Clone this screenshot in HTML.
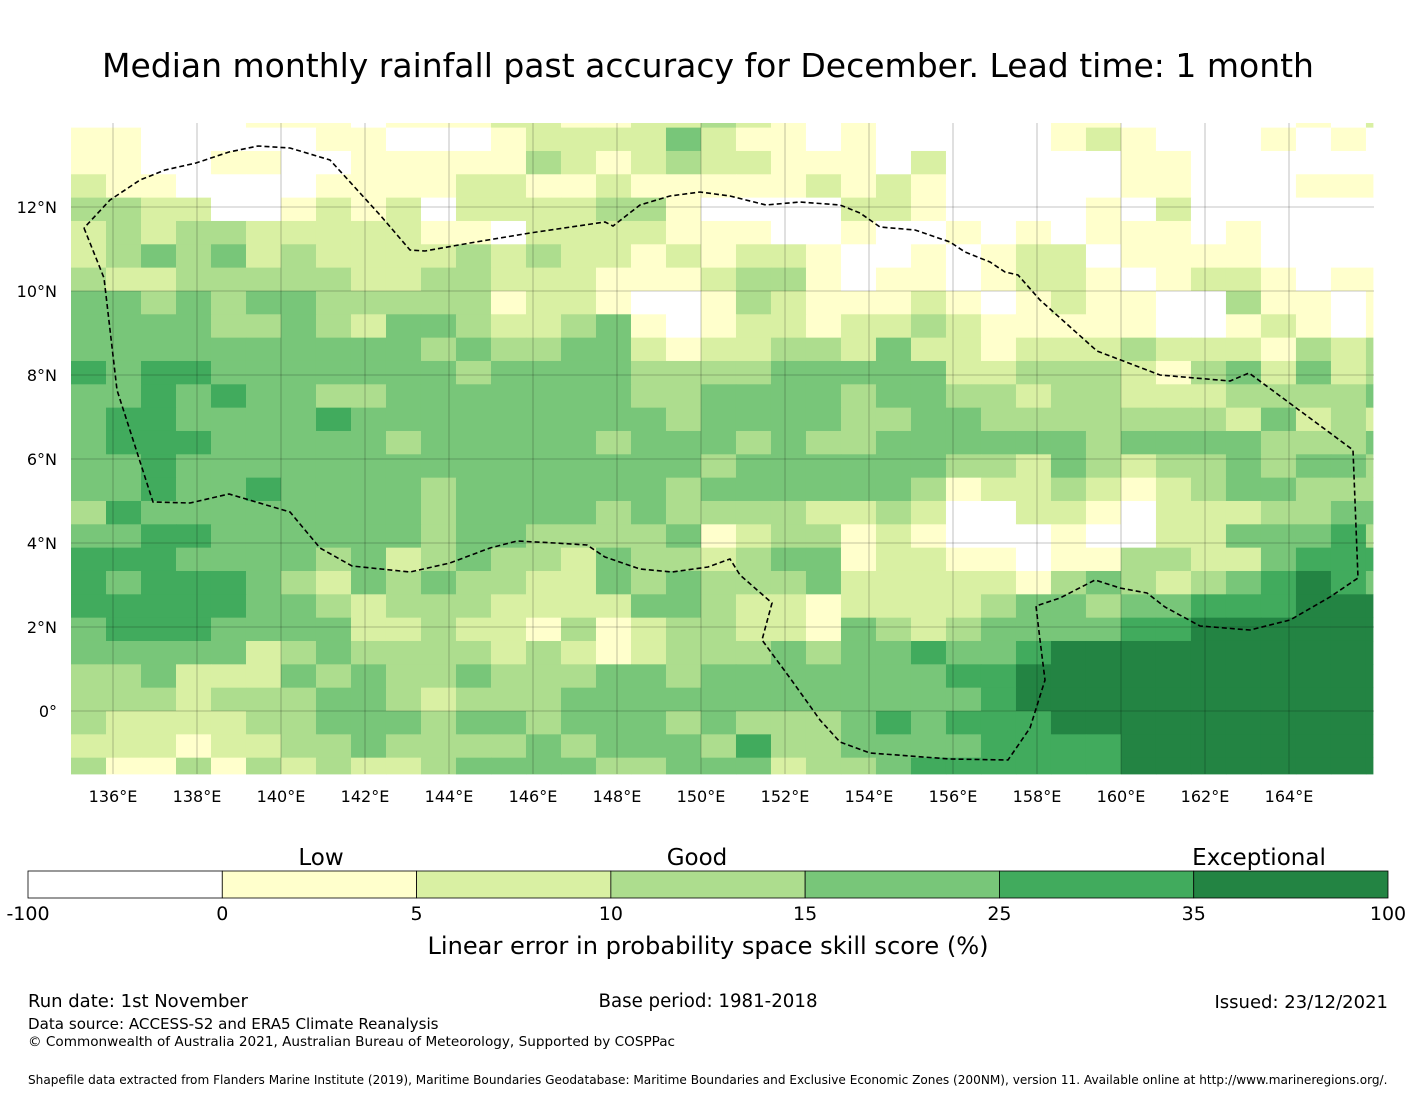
<!DOCTYPE html>
<html><head><meta charset="utf-8"><style>
html,body{margin:0;padding:0;background:#fff;}
svg text{font-family:"DejaVu Sans","Liberation Sans",sans-serif;fill:#000;}
</style></head><body>
<svg id="chart" xmlns="http://www.w3.org/2000/svg" width="1416" height="1095" viewBox="0 0 1416 1095">
<text x="708" y="77" font-size="33" text-anchor="middle">Median monthly rainfall past accuracy for December. Lead time: 1 month</text>
<g id="cells"></g>
<g id="grid"></g>
<path id="eez" fill="none" stroke="#000" stroke-width="1.6" stroke-dasharray="5,3"/>
<g id="axes"></g>
<g id="cbar"></g>
<text x="321" y="865" font-size="23" text-anchor="middle">Low</text>
<text x="697" y="865" font-size="23" text-anchor="middle">Good</text>
<text x="1259" y="865" font-size="23" text-anchor="middle">Exceptional</text>
<text x="708" y="954" font-size="24.1" text-anchor="middle">Linear error in probability space skill score (%)</text>
<text x="28" y="1007" font-size="18">Run date: 1st November</text>
<text x="708" y="1007" font-size="18.2" text-anchor="middle">Base period: 1981-2018</text>
<text x="1388" y="1008" font-size="18" text-anchor="end">Issued: 23/12/2021</text>
<text x="28" y="1029" font-size="15.1">Data source: ACCESS-S2 and ERA5 Climate Reanalysis</text>
<text x="28" y="1046" font-size="13.6">© Commonwealth of Australia 2021, Australian Bureau of Meteorology, Supported by COSPPac</text>
<text x="28" y="1084" font-size="12.1">Shapefile data extracted from Flanders Marine Institute (2019), Maritime Boundaries Geodatabase: Maritime Boundaries and Exclusive Economic Zones (200NM), version 11. Available online at http://www.marineregions.org/.</text>
</svg>
<script>
var colors = ["#ffffff","#ffffcc","#d9f0a3","#addd8e","#78c679","#41ab5d","#238443"];
var cbarTicks = ["-100","0","5","10","15","25","35","100"];
var lonTicks = [136,138,140,142,144,146,148,150,152,154,156,158,160,162,164];
var latTicks = [0,2,4,6,8,10,12];
var lon0 = 135, lat1 = 14, latBottom = -1.5, dLon = 0.8333, dLat = 0.5556;
var rows = [
"00000111011122112232101000001100000102",
"11000001100012222421101000001210001010",
"11001100111113212322111020000011000000",
"21100001111221121111121210000011000111",
"33220012120222233100002210000102000000",
"23233222221102222111001001010111010000",
"23434232222323221212210010122011110000",
"32233333223322211123310110122101221011",
"44343443333312210013211121012110031101",
"44443343244322341012212232111110012101",
"44444444443433442122332422122232221323",
"54554444444344443333444442233321342423",
"44545443344444443344443443323322233334",
"45544445444444444344443344333333324232",
"45554444434444434443433444444344443334",
"44544444444444444434444443324323343443",
"44544544443444444344444431223212344333",
"35444444443444434333322320022102223344",
"44554444443443333412331210001002244453",
"55544443423433243323441221101133224555",
"54555432434332243433342222213432345654",
"55555443233322224432212222344344555666",
"45554444223221312332214323444455666666",
"44444234333323212333434454456666666666",
"33422243433433344344444445566666666666",
"33323334432333444444444444566666666666",
"32222334443443444343334545556666666666",
"22212233433334344435334444555566666666",
"31131323223444433444233455555566666666"
];
var X0=71, X1=1374, Y0=123, Y1=774, PPD=42;
function xScale(lon){return X0+(lon-lon0)*PPD;}
function yScale(lat){return 711-lat*PPD;}
var NS="http://www.w3.org/2000/svg";
var cellsG=document.getElementById('cells');
for(var r=0;r<rows.length;r++){
  var latTop=(26-r)*dLat, latBot=(25-r)*dLat;
  if(latTop>lat1)latTop=lat1;
  if(latBot<latBottom)latBot=latBottom;
  var yT=yScale(latTop), yB=yScale(latBot);
  for(var c=0;c<rows[r].length;c++){
    var lonL=lon0+c*dLon, lonR=Math.min(lon0+(c+1)*dLon,166);
    var xL=xScale(lonL), xR=xScale(lonR);
    var el=document.createElementNS(NS,'rect');
    
    
    el.setAttribute('x',xL.toFixed(2));el.setAttribute('y',yT.toFixed(2));
    el.setAttribute('width',(xR-xL+0.4).toFixed(2));el.setAttribute('height',(yB-yT+0.4).toFixed(2));
    el.setAttribute('fill',colors[+rows[r][c]]);
    cellsG.appendChild(el);
  }
}
var gridG=document.getElementById('grid'), axG=document.getElementById('axes');
lonTicks.forEach(function(l){
  var x=xScale(l);
  var ln=document.createElementNS(NS,'line');
  
  
  ln.setAttribute('x1',x);ln.setAttribute('x2',x);ln.setAttribute('y1',Y0);ln.setAttribute('y2',Y1);
  ln.setAttribute('stroke','rgba(0,0,0,0.3)');ln.setAttribute('stroke-width','0.8');
  gridG.appendChild(ln);
  var t=document.createElementNS(NS,'text');
  
  
  t.setAttribute('x',x);t.setAttribute('y',802);t.setAttribute('font-size','16');t.setAttribute('text-anchor','middle');
  t.textContent=l+'°E';axG.appendChild(t);
});
latTicks.forEach(function(l){
  var y=yScale(l);
  var ln=document.createElementNS(NS,'line');
  
  
  ln.setAttribute('x1',X0);ln.setAttribute('x2',X1);ln.setAttribute('y1',y);ln.setAttribute('y2',y);
  ln.setAttribute('stroke','rgba(0,0,0,0.3)');ln.setAttribute('stroke-width','0.8');
  gridG.appendChild(ln);
  var t=document.createElementNS(NS,'text');
  
  
  t.setAttribute('x',57);t.setAttribute('y',y+6);t.setAttribute('font-size','16');t.setAttribute('text-anchor','end');
  t.textContent=l===0?'0°':l+'°N';axG.appendChild(t);
});
var eezPts=[[84,228],[104,278],[117,390],[153,502],[190,503],[229,494],[290,512],[320,548],[352,566],[410,572],[450,563],[490,548],[517,541],[555,543],[587,545],[605,557],[640,569],[672,572],[708,567],[730,559],[740,575],[772,603],[762,640],[790,678],[820,720],[840,742],[870,753],[950,759],[1008,760],[1030,728],[1045,680],[1040,640],[1036,606],[1060,598],[1095,580],[1120,588],[1147,593],[1165,607],[1200,626],[1250,630],[1290,620],[1330,597],[1358,578],[1353,450],[1249,373],[1230,381],[1160,375],[1097,351],[1040,300],[1018,275],[1005,272],[990,262],[965,252],[950,242],[915,230],[880,227],[860,213],[840,205],[800,202],[766,205],[730,196],[700,192],[670,196],[640,205],[613,226],[605,222],[530,233],[470,243],[425,251],[410,250],[380,215],[330,160],[290,148],[258,146],[229,152],[196,163],[165,170],[140,180],[110,200],[84,228]];
document.getElementById('eez').setAttribute('d','M'+eezPts.map(function(p){return p.join(',');}).join(' L'));
var cb=document.getElementById('cbar'), cbX0=28, cbX1=1388, cbW=(cbX1-cbX0)/7;
for(var i=0;i<7;i++){
  var rc=document.createElementNS(NS,'rect');
  
  
  rc.setAttribute('x',cbX0+i*cbW);rc.setAttribute('y',871);rc.setAttribute('width',cbW);rc.setAttribute('height',27);
  rc.setAttribute('fill',colors[i]);rc.setAttribute('stroke','#000');rc.setAttribute('stroke-width','0.8');
  cb.appendChild(rc);
}
cbarTicks.forEach(function(s,i){
  var t=document.createElementNS(NS,'text');
  
  
  t.setAttribute('x',cbX0+i*cbW);t.setAttribute('y',920);t.setAttribute('font-size','19');t.setAttribute('text-anchor','middle');
  t.textContent=s;cb.appendChild(t);
});
</script>
</body></html>
